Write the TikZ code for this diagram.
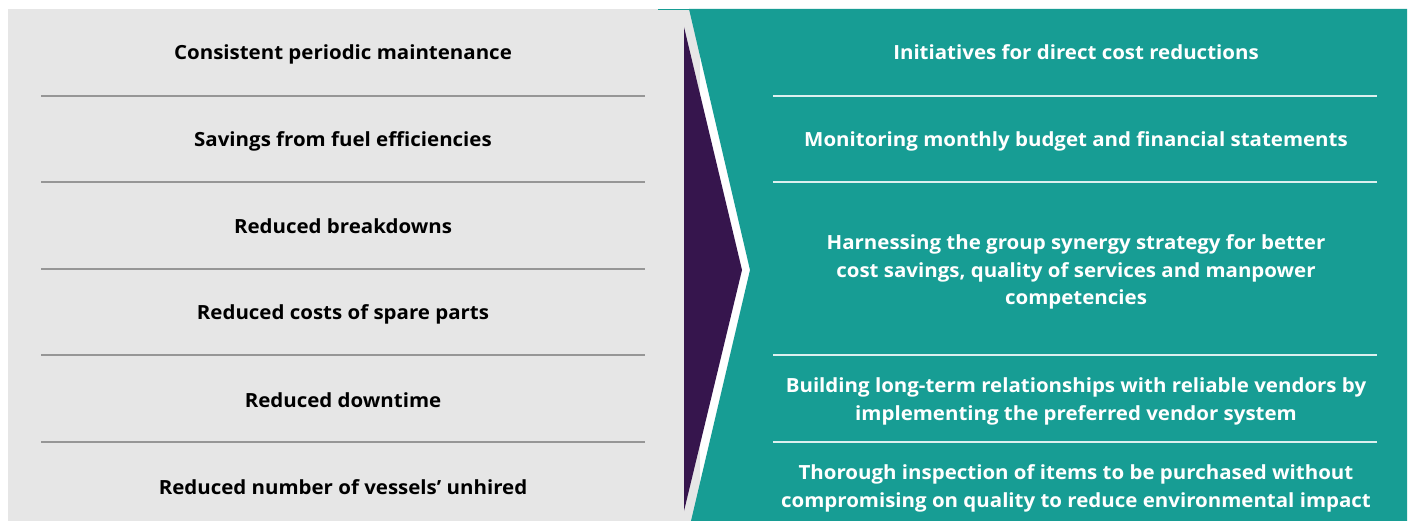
\documentclass[tikz,border=0pt]{standalone}
\usepackage{fontspec}
\setmainfont{Open Sans}[Ligatures=NoCommon, FakeStretch=1.05]
\definecolor{panelgray}{RGB}{230,230,230}
\definecolor{teal}{RGB}{23,157,148}
\definecolor{deeppurple}{RGB}{54,21,77}
\definecolor{rulegray}{RGB}{150,150,150}
\begin{document}
\begin{tikzpicture}[x=1pt,y=-1pt,
  lefttext/.style={font=\fontsize{19.5}{27.5}\selectfont\bfseries, text=black, align=center, inner sep=0pt},
  righttext/.style={font=\fontsize{19.5}{27.5}\selectfont\bfseries, text=white, align=center, inner sep=0pt},
  leftrule/.style={draw=rulegray, line width=1.2pt},
  rightrule/.style={draw=white!85!teal, line width=1.2pt}]
\useasboundingbox (0,0) rectangle (1414,521);
\fill[white] (0,0) rectangle (1414,521);
% panels
\fill[panelgray] (8,9) rectangle (700,521);
\fill[teal] (689,9) -- (1407,9) -- (1407,521) -- (691,521) -- (750,270) -- cycle;
\draw[teal, line width=0.8pt] (658,9.4) -- (690,9.4);
\fill[deeppurple] (684,27) -- (742,270) -- (684,511) -- cycle;
% left rules
\foreach \yy in {96,182,269,355,442} \draw[leftrule] (41,\yy) -- (645,\yy);
% right rules
\foreach \yy in {96,182,355,442} \draw[rightrule] (773,\yy) -- (1377,\yy);
% left texts
\node[lefttext, anchor=base] (l1) at (343,60) {Consistent periodic maintenance};
\node[lefttext, anchor=base] (l2) at (343,147) {Savings from fuel efficiencies};
\node[lefttext, anchor=base] (l3) at (343,234) {Reduced breakdowns};
\node[lefttext, anchor=base] (l4) at (343,320) {Reduced costs of spare parts};
\node[lefttext, anchor=base] (l5) at (343,407) {Reduced downtime};
\node[lefttext, anchor=base] (l6) at (343,494) {Reduced number of vessels’ unhired};
% right texts
\node[righttext, anchor=base] (r1) at (1076,60) {Initiatives for direct cost reductions};
\node[righttext, anchor=base] (r2) at (1076,147) {Monitoring monthly budget and financial statements};
\node[righttext] (r3) at (1076,272) {Harnessing the group synergy strategy for better\\cost savings, quality of services and manpower\\competencies};
\node[righttext] (r4) at (1076,401.5) {Building long-term relationships with reliable vendors by\\implementing the preferred vendor system};
\node[righttext] (r5) at (1076,488.5) {Thorough inspection of items to be purchased without\\compromising on quality to reduce environmental impact};
\end{tikzpicture}
\end{document}
